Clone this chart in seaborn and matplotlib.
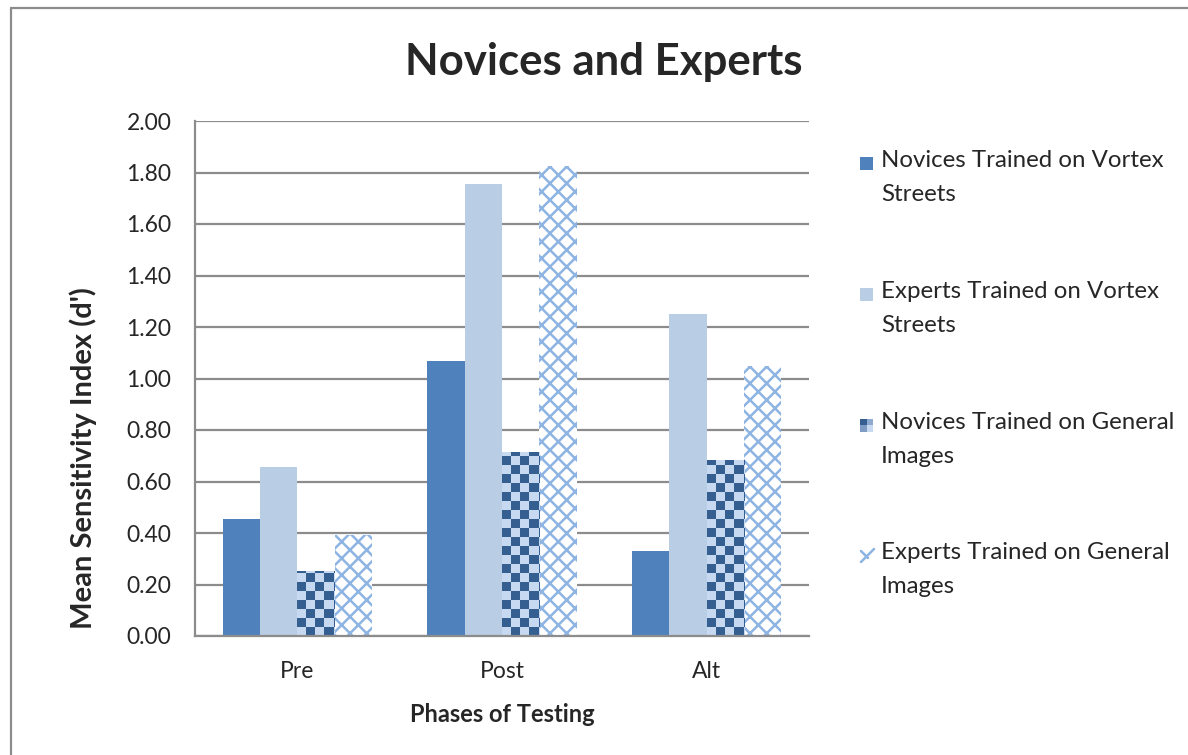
import numpy as np
import pandas as pd
import matplotlib
matplotlib.use("Agg")
import matplotlib.pyplot as plt
import seaborn as sns
from matplotlib.patches import Rectangle

phases = ["Pre", "Post", "Alt"]
series = ["Novices Trained on Vortex Streets",
          "Experts Trained on Vortex Streets",
          "Novices Trained on General Images",
          "Experts Trained on General Images"]
legend_labels = ["Novices Trained on Vortex\nStreets",
                 "Experts Trained on Vortex\nStreets",
                 "Novices Trained on General\nImages",
                 "Experts Trained on General\nImages"]
novices_vortex = [0.454, 1.067, 0.330]
experts_vortex = [0.655, 1.757, 1.252]
novices_general = [0.252, 0.714, 0.683]
experts_general = [0.393, 1.824, 1.048]
yticks = [0.0, 0.2, 0.4, 0.6, 0.8, 1.0, 1.2, 1.4, 1.6, 1.8, 2.0]

values = [novices_vortex, experts_vortex, novices_general, experts_general]
rows = []
for s, vals in zip(series, values):
    for p, v in zip(phases, vals):
        rows.append({"Phase": p, "Series": s, "Value": v})
df = pd.DataFrame(rows)

sns.set_style("white")
plt.rcParams['font.family'] = ['Lato', 'DejaVu Sans']
plt.rcParams['hatch.linewidth'] = 1.8

DARK = "#4F81BD"
LIGHT = "#B9CDE5"
CHK_DARK = "#365F91"
CHK_LIGHT = "#C6D9F1"
XBLUE = "#8DB4E2"
GRID = "#8C8C8C"

W, H = 1188, 755
fig = plt.figure(figsize=(W / 100, H / 100), dpi=100)
ax = fig.add_axes([195 / W, 1 - 636 / H, (809 - 195) / W, (636 - 121) / H])

palette = {series[0]: DARK, series[1]: LIGHT, series[2]: CHK_LIGHT, series[3]: "white"}
sns.barplot(data=df, x="Phase", y="Value", hue="Series", order=phases,
            hue_order=series, palette=palette, width=0.73, gap=0,
            saturation=1, errorbar=None, legend=False, ax=ax,
            linewidth=0)

ax.set_ylim(0, 2.0)
ax.set_xlim(-0.5, 2.5)
ax.set_yticks(yticks)
ax.set_yticklabels([f"{t:.2f}" for t in yticks], fontsize=16.5)
ax.tick_params(axis='y', length=7, width=1.5, color=GRID, pad=10)
ax.tick_params(axis='x', length=0, labelsize=16.5, pad=18)
ax.yaxis.grid(True, color=GRID, linewidth=1.6)
ax.set_axisbelow(True)
for sp in ["top", "right"]:
    ax.spines[sp].set_visible(False)
for sp in ["left", "bottom"]:
    ax.spines[sp].set_color(GRID)
    ax.spines[sp].set_linewidth(1.6)

ax.set_xlabel("Phases of Testing", fontsize=17, fontweight="bold", labelpad=15)
ax.set_ylabel("Mean Sensitivity Index (d')", fontsize=21, fontweight="bold")
ax.yaxis.set_label_coords(-0.16, (636 - 458) / 515)

# patterns
cont_chk = ax.containers[2]
cont_x = ax.containers[3]
for p in cont_x.patches:
    p.set_hatch("xx")
    p.set_edgecolor(XBLUE)
    p.set_linewidth(0)

cell_px = 9.0
cx = cell_px / ((809 - 195) / 3.0)
cy = cell_px / ((636 - 121) / 2.0)
cmap = matplotlib.colors.ListedColormap([CHK_LIGHT, CHK_DARK])
for p in cont_chk.patches:
    x0 = p.get_x()
    w = p.get_width()
    h = p.get_height()
    nx = int(np.ceil(w / cx)) + 1
    ny = int(np.ceil(h / cy)) + 1
    grid = (np.add.outer(np.arange(ny), np.arange(nx)) % 2).astype(float)
    im = ax.imshow(grid, cmap=cmap, extent=[x0, x0 + nx * cx, 0, ny * cy],
                   origin="lower", interpolation="nearest", aspect="auto",
                   zorder=p.get_zorder() + 0.1)
    im.set_clip_path(p)
ax.set_xlim(-0.5, 2.5)
ax.set_ylim(0, 2.0)

# title
fig.text(604 / W, 1 - 62 / H, "Novices and Experts", ha="center", va="center",
         fontsize=31.5, fontweight="bold")

# legend (manual, marker aligned with first line)
leg_y = [163, 294, 425, 555]
tr = fig.transFigure
for i, (lab, y) in enumerate(zip(legend_labels, leg_y)):
    x0, sz = 860, 13
    if i == 2:
        fig.add_artist(Rectangle((x0 / W, 1 - (y + sz / 2) / H), sz / W, sz / H,
                                 transform=tr, facecolor=CHK_LIGHT, linewidth=0))
        fig.add_artist(Rectangle((x0 / W, 1 - y / H), (sz / 2) / W, (sz / 2) / H,
                                 transform=tr, facecolor=CHK_DARK, linewidth=0))
        fig.add_artist(Rectangle((x0 / W, 1 - (y + sz / 2) / H), (sz / 2) / W, (sz / 2) / H,
                                 transform=tr, facecolor="#7F9CC4", linewidth=0))
        fig.add_artist(Rectangle(((x0 + sz / 2) / W, 1 - y / H), (sz / 2) / W, (sz / 2) / H,
                                 transform=tr, facecolor="#8FAAD0", linewidth=0))
    elif i == 3:
        fig.add_artist(plt.Line2D([(x0 + 1) / W, (x0 + 14) / W],
                                  [1 - (y + 7) / H, 1 - (y - 6) / H],
                                  transform=tr, color=XBLUE, linewidth=1.8))
        fig.add_artist(plt.Line2D([(x0 + 1) / W, (x0 + 8) / W],
                                  [1 - (y - 4) / H, 1 - (y + 3) / H],
                                  transform=tr, color=XBLUE, linewidth=1.8))
    else:
        col = DARK if i == 0 else LIGHT
        fig.add_artist(Rectangle((x0 / W, 1 - (y + sz / 2) / H), sz / W, sz / H,
                                 transform=tr, facecolor=col, linewidth=0))
    fig.text(881 / W, 1 - (y - 13) / H, lab, ha="left", va="top", fontsize=17.3,
             linespacing=1.78)

# outer frame
fig.add_artist(plt.Line2D([11 / W, 11 / W], [0, 1 - 8 / H], transform=tr,
                          color=GRID, linewidth=1.6))
fig.add_artist(plt.Line2D([11 / W, 1], [1 - 8 / H, 1 - 8 / H], transform=tr,
                          color=GRID, linewidth=1.6))

fig.savefig("out.png", dpi=100, facecolor="white")
